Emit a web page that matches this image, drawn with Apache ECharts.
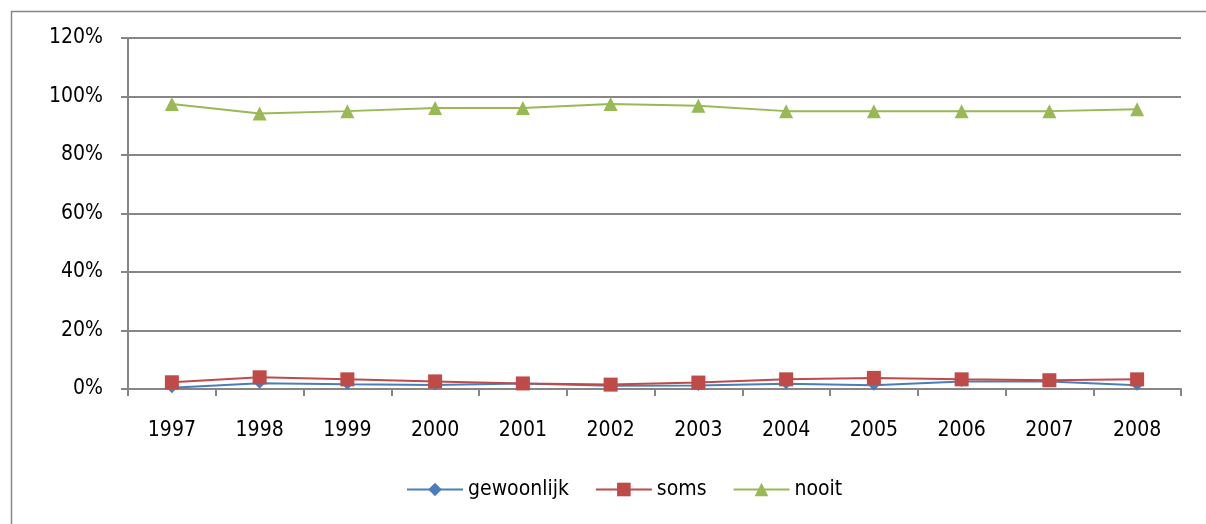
<!DOCTYPE html>
<html><head><meta charset="utf-8">
<script src="https://cdn.jsdelivr.net/npm/echarts@6/dist/echarts.min.js"></script>
<style>html,body{margin:0;padding:0;background:#fff}#c{width:1206px;height:524px}</style>
</head><body><div id="c"></div>
<script>
const years = ['1997','1998','1999','2000','2001','2002','2003','2004','2005','2006','2007','2008'];
const gewoonlijk = [0.4, 2.0, 1.6, 1.4, 1.9, 1.1, 1.2, 1.8, 1.3, 2.6, 2.6, 1.3];
const soms = [2.3, 4.0, 3.3, 2.6, 1.9, 1.5, 2.2, 3.3, 3.8, 3.3, 3.0, 3.3];
const nooit = [97.4, 94.2, 95.0, 96.1, 96.1, 97.4, 96.8, 95.0, 95.0, 95.0, 95.0, 95.6];
const yTicks = [0, 20, 40, 60, 80, 100, 120];

const font = '"Liberation Sans Narrow", "DejaVu Sans Condensed", sans-serif';
const chart = echarts.init(document.getElementById('c'));
function mk(name, data, color, symbol, size) {
  return {
    name, type: 'line', data, symbol, symbolSize: size,
    lineStyle: { color, width: 2 }, itemStyle: { color },
    animation: false
  };
}
chart.setOption({
  animation: false,
  textStyle: { fontFamily: font },
  graphic: [{ type: 'rect', shape: { x: 11.5, y: 11.5, width: 1300, height: 600 },
    style: { fill: 'none', stroke: '#868686', lineWidth: 1.5 }, silent: true }],
  grid: { left: 128, right: 25, top: 38, bottom: 135 },
  legend: {
    bottom: 19, left: 401, itemWidth: 56, itemHeight: 17, itemGap: 26,
    textStyle: { fontFamily: font, fontSize: 21, color: '#000' },
    data: ['gewoonlijk', 'soms', 'nooit']
  },
  xAxis: {
    type: 'category', data: years, boundaryGap: true,
    axisLine: { lineStyle: { color: '#868686', width: 2 } },
    axisTick: { show: true, length: 7, interval: 0, lineStyle: { color: '#868686', width: 2 } },
    axisLabel: { color: '#000', fontSize: 21, fontFamily: font, margin: 31 }
  },
  yAxis: {
    type: 'value', min: 0, max: 120, interval: 20,
    axisLine: { show: true, lineStyle: { color: '#868686', width: 2 } },
    axisTick: { show: true, length: 7, lineStyle: { color: '#868686', width: 2 } },
    splitLine: { lineStyle: { color: '#868686', width: 2 } },
    axisLabel: { color: '#000', fontSize: 21, fontFamily: font, margin: 25,
      formatter: v => yTicks.includes(v) ? v + '%' : '' }
  },
  series: [
    mk('gewoonlijk', gewoonlijk, '#4a7ebb', 'diamond', 11),
    mk('soms', soms, '#be4b48', 'rect', 14),
    mk('nooit', nooit, '#98b954', 'triangle', 14)
  ]
});
</script></body></html>
